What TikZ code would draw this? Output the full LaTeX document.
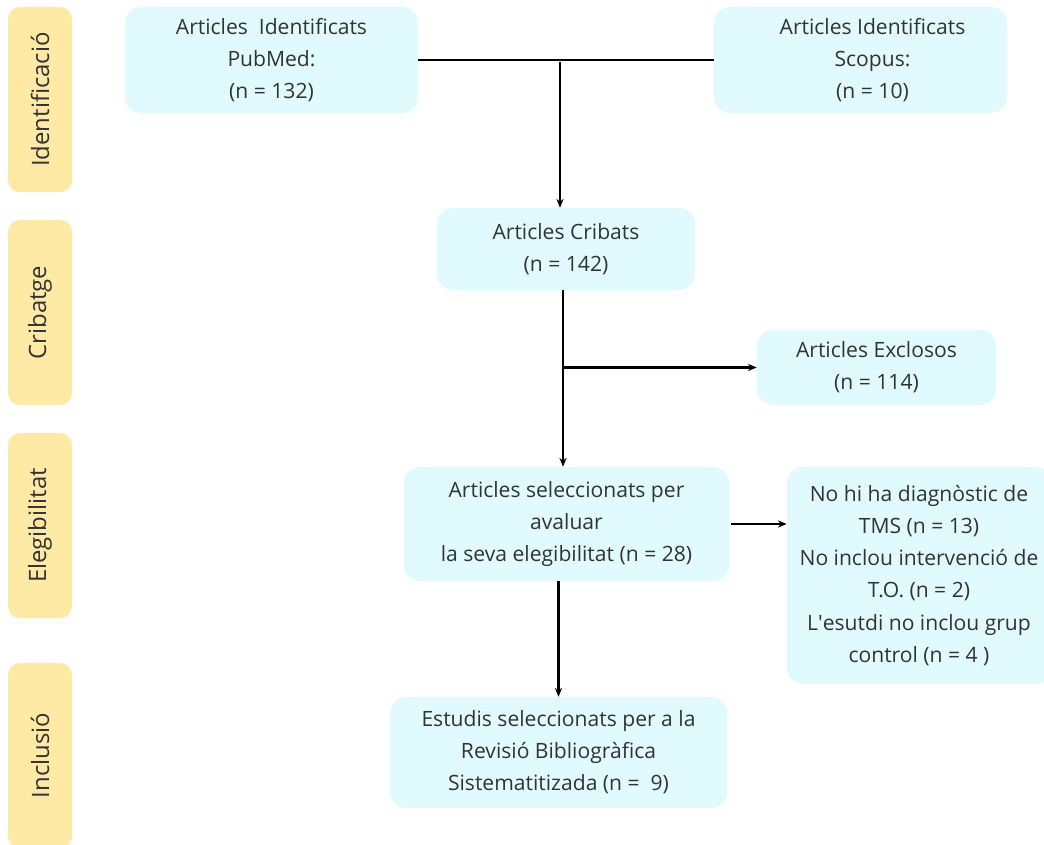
\documentclass[tikz,border=0pt]{standalone}
\usepackage{fontspec}
\setmainfont{Open Sans}
\usetikzlibrary{positioning, arrows.meta, calc}

\definecolor{boxcyan}{RGB}{224,250,253}
\definecolor{phaseyellow}{RGB}{255,234,165}
\definecolor{txtgrey}{RGB}{51,51,51}

\begin{document}
\begin{tikzpicture}[x=0.025cm, y=-0.025cm]
	\tikzset{
		flowbox/.style={rectangle, rounded corners=0.4cm, fill=boxcyan, align=center, text=txtgrey, font=\fontsize{15}{22.8}\selectfont, inner sep=0pt},
		phase/.style={rectangle, rounded corners=0.3cm, fill=phaseyellow, rotate=90, text=txtgrey, font=\fontsize{17}{20}\selectfont, minimum width=4.625cm, minimum height=1.6cm, inner sep=0pt},
		link/.style={line width=1.6pt, black},
		arrow/.style={link, -{Stealth[length=0.22cm, width=0.18cm]}}
	}
	\useasboundingbox (0,0) rectangle (1044,845);
	% fases
	\node[phase] (fase1) at (40,99.5) {Identificació};
	\node[phase] (fase2) at (40,312.5) {Cribatge};
	\node[phase] (fase3) at (40,525.5) {Elegibilitat};
	\node[phase] (fase4) at (40,755.5) {Inclusió};
	% caixes
	\node[flowbox, minimum width=7.325cm, minimum height=2.65cm] (pubmed) at (271.5,60) {Articles~ Identificats\\PubMed:\\(n = 132)};
	\node[flowbox, minimum width=7.325cm, minimum height=2.65cm] (scopus) at (860.5,60) {\hspace{0.6cm}Articles Identificats\\\hspace{0.6cm}Scopus:\\\hspace{0.6cm}(n = 10)};
	\node[flowbox, minimum width=6.45cm, minimum height=2.05cm] (cribats) at (566,249) {Articles Cribats\\(n = 142)};
	\node[flowbox, minimum width=5.975cm, minimum height=1.875cm] (exclosos) at (876.5,367.5) {Articles Exclosos\\(n = 114)};
	\node[flowbox, minimum width=8.125cm, minimum height=2.85cm] (selec) at (566.5,524) {Articles seleccionats per\\avaluar\\la seva elegibilitat (n = 28)};
	\node[flowbox, minimum width=6.6cm, minimum height=5.425cm] (exclusions) at (919,575.5) {No hi ha diagnòstic de\\TMS (n = 13)\\No inclou intervenció de\\T.O. (n = 2)\\L\textquotesingle esutdi no inclou grup\\control (n = 4 )};
	\node[flowbox, minimum width=8.425cm, minimum height=2.775cm] (estudis) at (558.5,752.5) {Estudis seleccionats per a la\\Revisió Bibliogràfica\\Sistematitizada (n = ~9)};
	% connexions
	\draw[link] (pubmed.east) -- (scopus.west);
	\coordinate (split1) at (560,62);
	\draw[arrow] (split1) -- (split1 |- cribats.north);
	\draw[arrow] (cribats.south) ++(-3,0) coordinate (down1) -- (down1 |- selec.north);
	\coordinate (split2) at (down1 |- exclosos.west);
	\draw[arrow] (split2) -- (exclosos.west);
	\draw[arrow] ([xshift=0.05cm]selec.east) -- (selec.east -| exclusions.west);
	\draw[arrow] (selec.south) ++(-8,0) coordinate (down2) -- (down2 |- estudis.north);
\end{tikzpicture}
\end{document}
